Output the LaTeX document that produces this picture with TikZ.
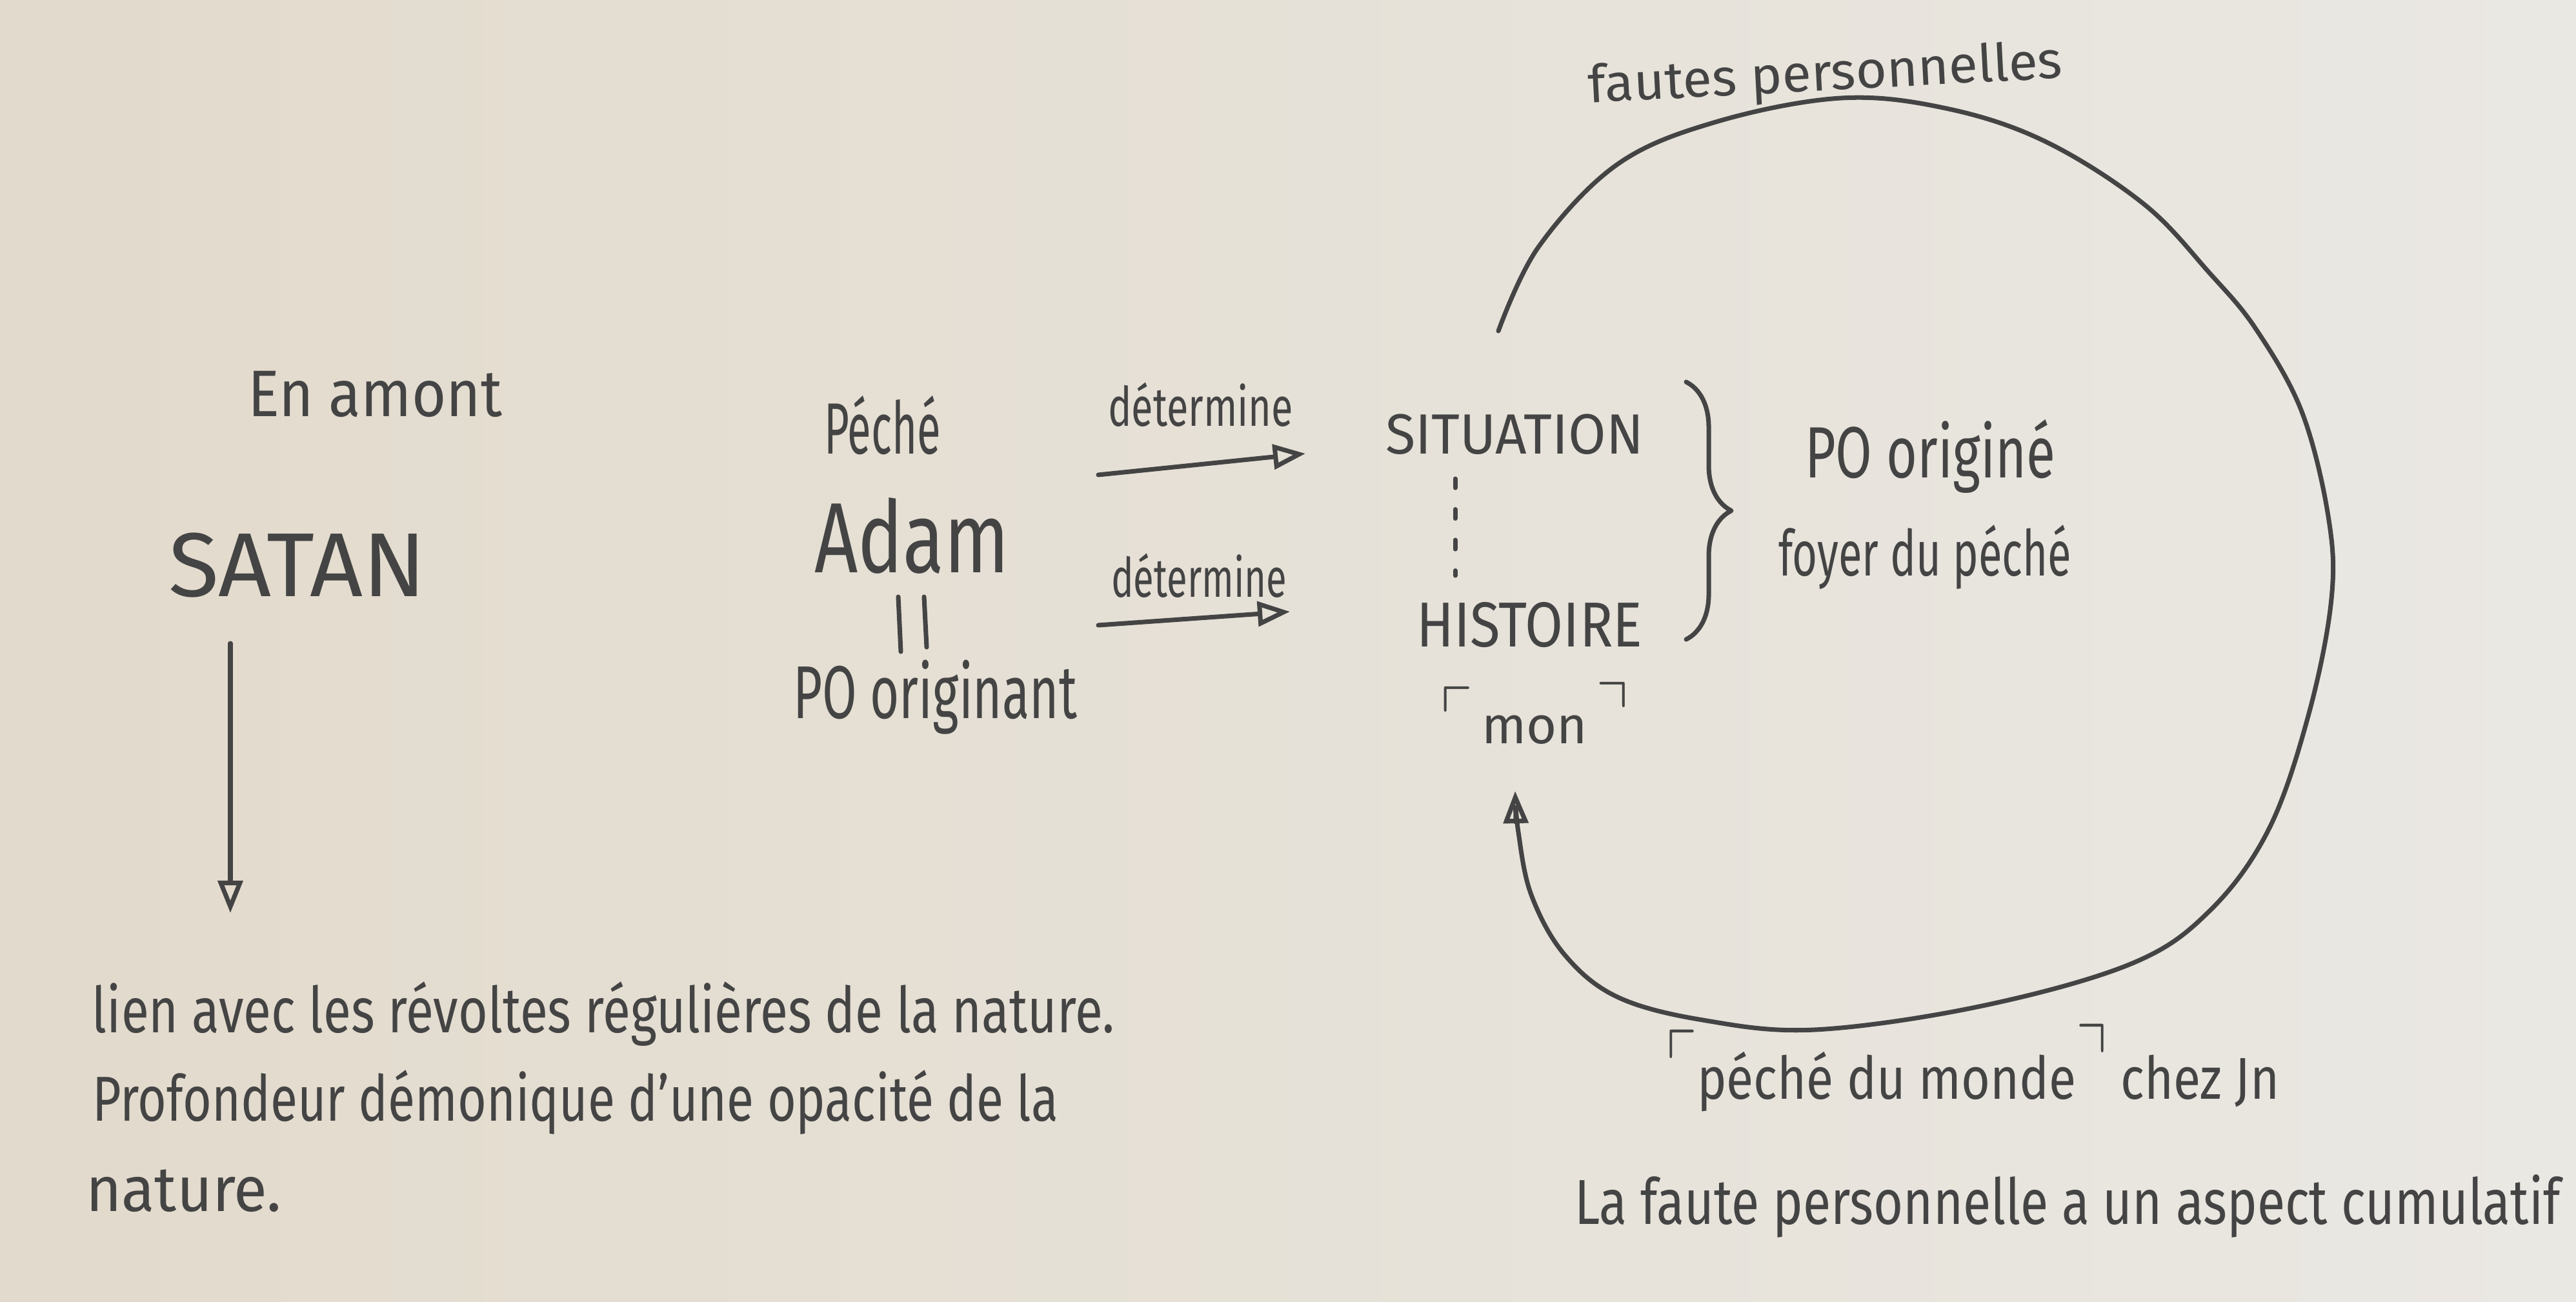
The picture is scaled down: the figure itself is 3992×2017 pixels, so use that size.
\documentclass[tikz,border=0pt]{standalone}
\usepackage{fontspec}
\setmainfont{Fira Sans}
\usepackage{graphicx}
\usepackage{amssymb}
\usetikzlibrary{arrows.meta,decorations.pathreplacing}
\definecolor{paperL}{RGB}{226,218,204}
\definecolor{paperR}{RGB}{234,232,227}
\definecolor{pencil}{RGB}{68,68,68}
\newcommand{\hwfit}[2]{\resizebox{#1}{\height}{#2}}
\newcommand{\fsz}[1]{\fontsize{#1}{#1}\selectfont}
\newcommand{\qopen}[1]{\raisebox{#1}{\scalebox{1.25}{$\ulcorner$}}}
\newcommand{\qclose}[1]{\raisebox{#1}{\scalebox{1.25}{$\urcorner$}}}
\begin{document}
\begin{tikzpicture}[x=0.01cm,y=-0.01cm,
  hw/.style={anchor=base west, inner sep=0pt, outer sep=0pt, text=pencil},
  pen/.style={draw=pencil, line width=2pt, line cap=round, line join=round},
  tri/.style={-{Triangle[open, length=0.5cm, width=0.38cm]}}]
\useasboundingbox (0,0) rectangle (3992,2017);
\shade[left color=paperL, right color=paperR] (0,0) rectangle (3992,2017);

% left part
\node[hw, font=\fsz{29}] (amont) at (384,645) {\hwfit{3.94cm}{En amont}};
\node[hw, font=\fsz{40}] (satan) at (261,924) {\hwfit{3.99cm}{SATAN}};
\coordinate (sa1) at (357,997);
\coordinate (sa2) at (357,1415);
\draw[pen, tri] (sa1) -- (sa2);
\node[hw, font=\fsz{28}] (l1) at (143,1600) {\hwfit{15.83cm}{lien avec les révoltes régulières de la nature.}};
\node[hw, font=\fsz{28}] (l2) at (143,1737) {\hwfit{14.96cm}{Profondeur démonique d'une opacité de la}};
\node[hw, font=\fsz{28}] (l3) at (133,1877) {\hwfit{3.03cm}{nature.}};

% middle
\node[hw, font=\fsz{32}] (peche) at (1277,703) {\hwfit{1.81cm}{Péché}};
\node[hw, font=\fsz{44}] (adam) at (1262,887) {\hwfit{3.02cm}{Adam}};
\draw[pen] (1392,925) -- (1396,1010);
\draw[pen] (1432,925) -- (1436,1003);
\node[hw, font=\fsz{33}] (poor) at (1229,1113) {\hwfit{4.40cm}{PO originant}};
\node[hw, font=\fsz{24}] (det1) at (1717,660) {\hwfit{2.87cm}{détermine}};
\node[hw, font=\fsz{24}] (det2) at (1722,925) {\hwfit{2.72cm}{détermine}};
\coordinate (d1s) at (1702,736);
\coordinate (d1e) at (2023,703);
\coordinate (d2s) at (1702,969);
\coordinate (d2e) at (1999,948);
\draw[pen, tri] (d1s) -- (d1e);
\draw[pen, tri] (d2s) -- (d2e);

% situation / histoire
\node[hw, font=\fsz{25}] (sit) at (2147,703) {\hwfit{4.00cm}{SITUATION}};
\node[hw, font=\fsz{28}] (hist) at (2195,1002) {\hwfit{3.50cm}{HISTOIRE}};
\coordinate (dt1) at (2255,742);
\coordinate (dt2) at (2255,892);
\draw[pen, dash pattern=on 4pt off 9.5pt] (dt1) -- (dt2);
\node[hw, font=\fsz{23}] (mon) at (2232,1152) {\qopen{0.22em}\,mon\,\qclose{0.3em}};
\coordinate (br1) at (2613,592);
\coordinate (br2) at (2613,991);
\draw[pen, decorate, decoration={brace, amplitude=0.7cm}] (br1) -- (br2);
\node[hw, font=\fsz{32}] (pog) at (2797,740) {\hwfit{3.88cm}{PO originé}};
\node[hw, font=\fsz{28}] (foyer) at (2756,892) {\hwfit{4.54cm}{foyer du péché}};

% loop
\node[font=\fsz{23}, anchor=base, inner sep=0pt, text=pencil, rotate=3] (fautes) at (2830,140) {\hwfit{7.35cm}{fautes personnelles}};
\draw[pen, tri] plot[smooth, tension=0.6] coordinates {(2322,513) (2384,383) (2506,255) (2659,189) (2853,152) (3016,168) (3169,219) (3322,316) (3424,423) (3496,510) (3567,638) (3608,800) (3613,928) (3578,1106) (3516,1285) (3424,1412) (3302,1494) (3067,1560) (2812,1596) (2639,1581) (2506,1545) (2424,1479) (2373,1387) (2353,1290) (2348,1226)};

% bottom right
\node[hw, font=\fsz{26}] (monde) at (2582,1703) {\hwfit{9.50cm}{\qopen{0.3em}péché du monde\qclose{0.4em} chez Jn}};
\node[hw, font=\fsz{28}] (cumul) at (2440,1897) {\hwfit{15.27cm}{La faute personnelle a un aspect cumulatif}};
\end{tikzpicture}
\end{document}
